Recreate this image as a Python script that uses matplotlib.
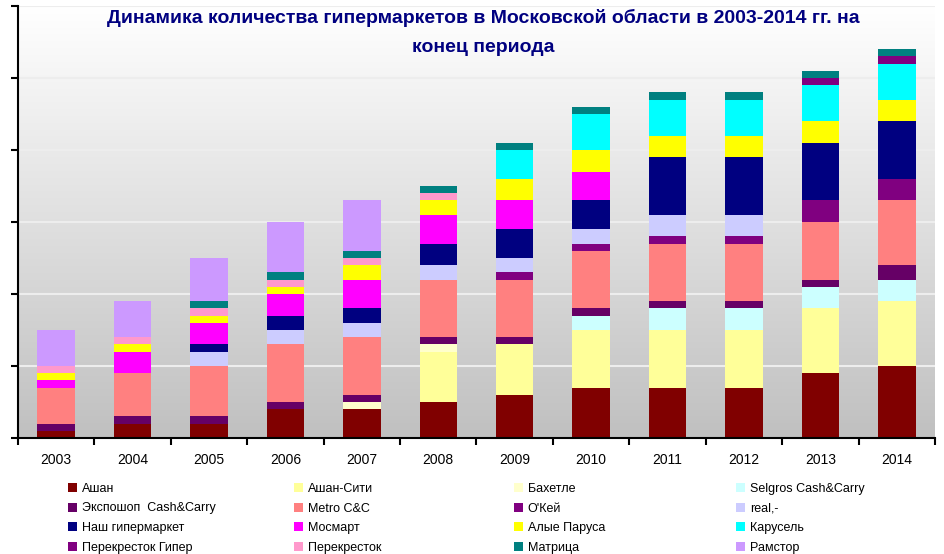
import numpy as np
import matplotlib
matplotlib.use("Agg")
import matplotlib.pyplot as plt
from matplotlib.colors import LinearSegmentedColormap

plt.rcParams['font.family'] = ['Liberation Sans', 'DejaVu Sans']

years = ["2003", "2004", "2005", "2006", "2007", "2008",
         "2009", "2010", "2011", "2012", "2013", "2014"]

# number of hypermarkets per chain
auchan      = [1, 2, 2, 4, 4, 5, 6, 7, 7, 7, 9, 10]
auchan_city = [0, 0, 0, 0, 0, 7, 7, 8, 8, 8, 9, 9]
bakhetle    = [0, 0, 0, 0, 1, 1, 0, 0, 0, 0, 0, 0]
selgros     = [0, 0, 0, 0, 0, 0, 0, 2, 3, 3, 3, 3]
exposhop    = [1, 1, 1, 1, 1, 1, 1, 1, 1, 1, 1, 2]
metro       = [5, 6, 7, 8, 8, 8, 8, 8, 8, 8, 8, 9]
okey        = [0, 0, 0, 0, 0, 0, 1, 1, 1, 1, 3, 3]
real        = [0, 0, 2, 2, 2, 2, 2, 2, 3, 3, 0, 0]
nash        = [0, 0, 1, 2, 2, 3, 4, 4, 8, 8, 8, 8]
mosmart     = [1, 3, 3, 3, 4, 4, 4, 4, 0, 0, 0, 0]
alye        = [1, 1, 1, 1, 2, 2, 3, 3, 3, 3, 3, 3]
karusel     = [0, 0, 0, 0, 0, 0, 4, 5, 5, 5, 5, 5]
perek_hyper = [0, 0, 0, 0, 0, 0, 0, 0, 0, 0, 1, 1]
perek       = [1, 1, 1, 1, 1, 1, 0, 0, 0, 0, 0, 0]
matrica     = [0, 0, 1, 1, 1, 1, 1, 1, 1, 1, 1, 1]
ramstor     = [5, 5, 6, 7, 7, 0, 0, 0, 0, 0, 0, 0]

series = [
    ("Ашан",                auchan,      "#800000"),
    ("Ашан-Сити",           auchan_city, "#FFFF99"),
    ("Бахетле",             bakhetle,    "#FFFFCC"),
    ("Selgros Cash&Carry",  selgros,     "#CCFFFF"),
    ("Экспошоп  Cash&Carry", exposhop,   "#660066"),
    ("Metro C&C",           metro,       "#FF8080"),
    ("О'Кей",               okey,        "#800080"),
    ("real,-",              real,        "#CCCCFF"),
    ("Наш гипермаркет",     nash,        "#000080"),
    ("Мосмарт",             mosmart,     "#FF00FF"),
    ("Алые Паруса",         alye,        "#FFFF00"),
    ("Карусель",            karusel,     "#00FFFF"),
    ("Перекресток Гипер",   perek_hyper, "#800080"),
    ("Перекресток",         perek,       "#FF99CC"),
    ("Матрица",             matrica,     "#008080"),
    ("Рамстор",             ramstor,     "#CC99FF"),
]

fig = plt.figure(figsize=(9.45, 5.54), dpi=100)
ax = fig.add_axes([18 / 945, 116 / 554, 917 / 945, 432 / 554])

x = np.arange(len(years))
ax.set_xlim(-0.5, len(years) - 0.5)
ax.set_ylim(0, 60)

# gradient background of the plot area
grad = LinearSegmentedColormap.from_list("bg", ["#C0C0C0", "#FFFFFF"])
ax.imshow(np.linspace(0, 1, 256).reshape(-1, 1), cmap=grad, aspect="auto",
          extent=(-0.5, len(years) - 0.5, 0, 60), origin="lower", zorder=0)

ax.set_yticks(np.arange(0, 61, 10))
ax.set_yticklabels([])
ax.grid(axis="y", color="#EDEDED", linewidth=1.5, zorder=1)

bottom = np.zeros(len(years))
handles = []
for name, vals, color in series:
    vals = np.array(vals, dtype=float)
    b = ax.bar(x, vals, bottom=bottom, width=0.49, color=color,
               edgecolor="none", label=name, zorder=2)
    handles.append(b)
    bottom += vals

ax.set_xticks(x)
ax.set_xticklabels(years, fontsize=10)
ax.set_xticks(np.arange(-0.5, len(years), 1), minor=True)
ax.tick_params(axis="x", which="major", length=0, pad=11)
ax.tick_params(axis="x", which="minor", length=5, width=1.5, direction="out")
ax.tick_params(axis="y", length=5, width=1.5, direction="out")

for side in ["top", "right"]:
    ax.spines[side].set_visible(False)
for side in ["left", "bottom"]:
    ax.spines[side].set_linewidth(1.5)
    ax.spines[side].set_zorder(3)

fig.text(483 / 945, 1 - 18 / 554,
         "Динамика количества гипермаркетов в Московской области в 2003-2014 гг. на",
         ha="center", va="center", fontsize=14, fontweight="bold", color="#000080")
fig.text(483 / 945, 1 - 47 / 554, "конец периода",
         ha="center", va="center", fontsize=14, fontweight="bold", color="#000080")

# legend filled row by row, 4 columns -> one legend per column
labels = [s[0] for s in series]
col_x = [68, 294, 514, 736]
for c, cx in enumerate(col_x):
    idx = [r * 4 + c for r in range(4)]
    fig.legend([handles[i] for i in idx], [labels[i] for i in idx],
               loc="upper left", bbox_to_anchor=(cx / 945, 1 - 483 / 554),
               frameon=False, fontsize=9, handlelength=0.75, handleheight=0.75,
               handletextpad=0.35, labelspacing=0.6,
               borderpad=0, borderaxespad=0)

fig.savefig("out.png", dpi=100)
